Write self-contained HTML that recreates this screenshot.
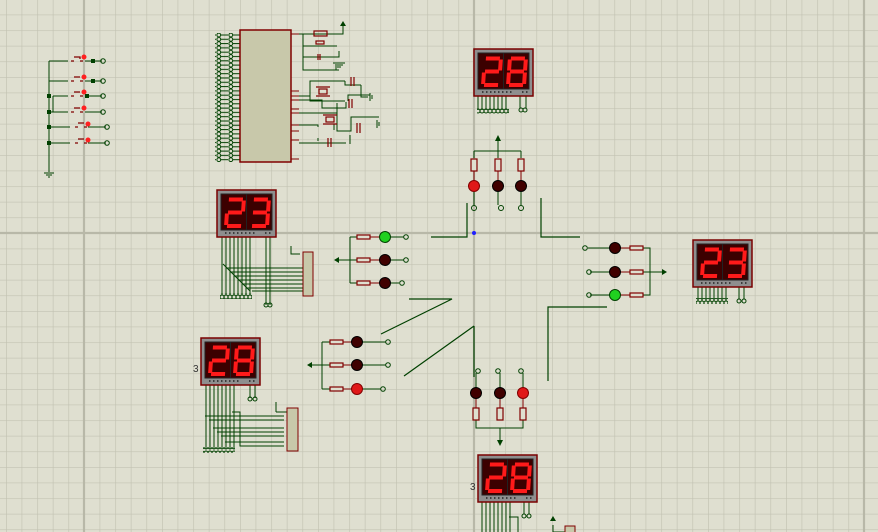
<!DOCTYPE html>
<html><head><meta charset="utf-8"><style>
html,body{margin:0;padding:0;background:#dfdfd0;}
svg{display:block;}
</style></head><body>
<svg width="878" height="532" viewBox="0 0 878 532" xmlns="http://www.w3.org/2000/svg">
<defs>
<pattern id="grid" x="6" y="14.6" width="15.6" height="15.6" patternUnits="userSpaceOnUse">
<path d="M0,0H15.6M0,0V15.6" stroke="#c2c2b2" stroke-width="1.3" fill="none"/>
</pattern>
<pattern id="mcupin" x="0" y="33" width="12" height="4.3" patternUnits="userSpaceOnUse">
<circle cx="2.8" cy="2" r="1.9" fill="none" stroke="#004000" stroke-width="1"/>
<path d="M4.7,2H12" stroke="#004000" stroke-width="1"/>
</pattern>
<pattern id="dpin" x="0" y="0" width="4" height="30" patternUnits="userSpaceOnUse">
<path d="M2,0V30" stroke="#004000" stroke-width="1"/>
</pattern>
<pattern id="dcirc" x="0" y="0" width="4" height="6" patternUnits="userSpaceOnUse">
<circle cx="2" cy="3" r="2" fill="none" stroke="#004000" stroke-width="1"/>
</pattern>
</defs>
<rect width="878" height="532" fill="#dfdfd0"/>
<rect width="878" height="532" fill="url(#grid)"/>
<path d="M84,0V532M474,0V532M864,0V532M0,233H878" stroke="#b8b8a8" stroke-width="2.2"/>

<!-- switches -->
<g stroke="#004000" stroke-width="1" fill="none">
<path d="M49,61V172M49,61H68M49,81H68M53,96H68M53,96V112M49,112H68M49,127H70M49,143H70"/>
<path d="M85,61H102M85,81H102M85,96H102M85,112H102M88,127H106M88,143H106"/>
<circle cx="103" cy="61" r="2.3"/><circle cx="103" cy="81" r="2.3"/><circle cx="103" cy="96" r="2.3"/><circle cx="103" cy="112" r="2.3"/><circle cx="107" cy="127" r="2.3"/><circle cx="107" cy="143" r="2.3"/>
<path d="M44,173H54M46,175H52M48,177H50"/>
</g>
<g fill="#004000"><rect x="47" y="94" width="4" height="4"/><rect x="47" y="110" width="4" height="4"/><rect x="47" y="125" width="4" height="4"/><rect x="47" y="141" width="4" height="4"/><rect x="91" y="59" width="4" height="4"/><rect x="91" y="79" width="4" height="4"/><rect x="85" y="94" width="4" height="4"/></g>
<g stroke="#800000" stroke-width="1.3" fill="none">
<path d="M71,61h3M80,61h3M74,57h6v2M71,81h3M80,81h3M74,77h6M71,96h3M80,96h3M74,92h6M71,112h3M80,112h3M74,108h6M75,127h3M84,127h3M78,123h6M75,143h3M84,143h3M78,139h6"/>
</g>
<g fill="#ff2020"><circle cx="84" cy="57" r="2.5"/><circle cx="84" cy="77" r="2.5"/><circle cx="84" cy="92" r="2.5"/><circle cx="84" cy="108" r="2.5"/><circle cx="88" cy="124" r="2.5"/><circle cx="88" cy="140" r="2.5"/></g>

<!-- MCU -->
<rect x="215" y="33" width="25" height="129" fill="url(#mcupin)"/>
<rect x="240" y="30" width="51" height="132" fill="#c8c8aa" stroke="#800000" stroke-width="1.5"/>
<g stroke="#800000" stroke-width="1"><path d="M291,34h8M291,91h8M291,96h8M291,100h8M291,109h8M291,113h8M291,125h8M291,131h8M291,140h8M291,159h8"/></g>
<g stroke="#004000" stroke-width="1" fill="none">
<path d="M299,34H343V26M303,34V57H339V51M303,46H337M303,57V70H339M336,70V66"/>
<path d="M299,96H310V81H345M310,96V101H345M345,81V85H361M348,101V95H370M361,85V97H368"/>
<path d="M299,100H322V108H346V102M299,113H337V103M337,108V131H351V117H379M337,131H350"/>
<path d="M299,125H318V127M299,143H330H346M318,141V138"/>
<path d="M334,124V130"/>
</g>
<g stroke="#800000" stroke-width="1.2" fill="none">
<rect x="314" y="31" width="13" height="5"/><rect x="316" y="41" width="8" height="3"/>
<path d="M320,54V60M318,54V60M351,77V86M354,77V86M349,99V108M352,99V108M357,123V133M360,123V133M328,138V147M331,138V147"/>
<rect x="319" y="89" width="8" height="5"/><path d="M316,87H330M316,96H330"/>
<rect x="326" y="117" width="8" height="5"/><path d="M323,115H337M323,124H337"/>
</g>
<g stroke="#004000" fill="none" stroke-width="1"><path d="M333,63H345M335,65H343M337,67H341M370,93V101M372,95V99M377,120V128M379,122V126M350,135V144"/></g>
<path d="M340,26l3,-5l3,5z" fill="#004000"/>

<!-- roads -->
<g stroke="#004000" stroke-width="1.2" fill="none">
<path d="M431,237H467V203M541,198V237H580M548,381V307H607M474,326V377M474,326L404,376M409,299H452L381,334"/>
</g>
<circle cx="474" cy="233" r="2" fill="#2020ff"/>

<!-- top lights -->
<g stroke="#004000" stroke-width="1" fill="none">
<path d="M498,137V151M474,151H521M474,151V158M498,151V158M521,151V158M474,192V205M498,192V205M521,192V205"/>
<circle cx="474" cy="208" r="2.5"/><circle cx="501" cy="208" r="2.5"/><circle cx="521" cy="208" r="2.5"/>
</g>
<path d="M495,141l3,-6l3,6z" fill="#004000"/>
<g stroke="#800000" stroke-width="1.2" fill="#dfdfd0"><rect x="471" y="159" width="6" height="12"/><rect x="495" y="159" width="6" height="12"/><rect x="518" y="159" width="6" height="12"/></g>
<g stroke="#800000" stroke-width="1"><path d="M474,171V181M498,171V181M521,171V181"/></g>
<circle cx="474" cy="186" r="5.5" fill="#e01818" stroke="#800000"/><circle cx="498" cy="186" r="5.5" fill="#400000" stroke="#000"/><circle cx="521" cy="186" r="5.5" fill="#400000" stroke="#000"/>

<!-- left lights -->
<g stroke="#004000" stroke-width="1" fill="none">
<path d="M336,260H350M350,237V283M350,237H357M350,260H357M350,283H357M391,237H404M391,260H404M391,283H399"/>
<circle cx="406" cy="237" r="2.3"/><circle cx="406" cy="260" r="2.3"/><circle cx="402" cy="283" r="2.3"/>
</g>
<path d="M334,260l5,-3v6z" fill="#004000"/>
<g stroke="#800000" stroke-width="1.2" fill="#dfdfd0"><rect x="357" y="235" width="13" height="4"/><rect x="357" y="258" width="13" height="4"/><rect x="357" y="281" width="13" height="4"/></g>
<path d="M370,237H380M370,260H380M370,283H380" stroke="#800000"/>
<circle cx="385" cy="237" r="5.5" fill="#20d020" stroke="#004000"/><circle cx="385" cy="260" r="5.5" fill="#400000" stroke="#000"/><circle cx="385" cy="283" r="5.5" fill="#400000" stroke="#000"/>

<!-- bottom-left lights -->
<g stroke="#004000" stroke-width="1" fill="none">
<path d="M310,365H322M322,342V389M322,342H330M322,365H330M322,389H330M362,342H386M362,365H386M362,389H381"/>
<circle cx="388" cy="342" r="2.3"/><circle cx="388" cy="365" r="2.3"/><circle cx="383" cy="389" r="2.3"/>
</g>
<path d="M307,365l5,-3v6z" fill="#004000"/>
<g stroke="#800000" stroke-width="1.2" fill="#dfdfd0"><rect x="330" y="340" width="13" height="4"/><rect x="330" y="363" width="13" height="4"/><rect x="330" y="387" width="13" height="4"/></g>
<path d="M343,342H352M343,365H352M343,389H352" stroke="#800000"/>
<circle cx="357" cy="342" r="5.5" fill="#400000" stroke="#000"/><circle cx="357" cy="365" r="5.5" fill="#400000" stroke="#000"/><circle cx="357" cy="389" r="5.5" fill="#e01818" stroke="#800000"/>

<!-- bottom lights -->
<g stroke="#004000" stroke-width="1" fill="none">
<path d="M476,373V388M500,373V388M523,373V388M476,420V428H523V420M500,428V440"/>
<circle cx="478" cy="371" r="2.3"/><circle cx="498" cy="371" r="2.3"/><circle cx="521" cy="371" r="2.3"/>
</g>
<path d="M497,440l3,6l3,-6z" fill="#004000"/>
<g stroke="#800000" stroke-width="1.2" fill="#dfdfd0"><rect x="473" y="408" width="6" height="12"/><rect x="497" y="408" width="6" height="12"/><rect x="520" y="408" width="6" height="12"/></g>
<path d="M476,398V408M500,398V408M523,398V408" stroke="#800000"/>
<circle cx="476" cy="393" r="5.5" fill="#400000" stroke="#000"/><circle cx="500" cy="393" r="5.5" fill="#400000" stroke="#000"/><circle cx="523" cy="393" r="5.5" fill="#e01818" stroke="#800000"/>

<!-- right lights -->
<g stroke="#004000" stroke-width="1" fill="none">
<path d="M588,248H610M590,272H610M590,295H610M643,248H650V295H643M643,272H662"/>
<circle cx="585" cy="248" r="2.3"/><circle cx="589" cy="272" r="2.3"/><circle cx="589" cy="295" r="2.3"/>
</g>
<path d="M667,272l-5,-3v6z" fill="#004000"/>
<g stroke="#800000" stroke-width="1.2" fill="#dfdfd0"><rect x="630" y="246" width="13" height="4"/><rect x="630" y="270" width="13" height="4"/><rect x="630" y="293" width="13" height="4"/></g>
<path d="M620,248H630M620,272H630M620,295H630" stroke="#800000"/>
<circle cx="615" cy="248" r="5.5" fill="#400000" stroke="#000"/><circle cx="615" cy="272" r="5.5" fill="#400000" stroke="#000"/><circle cx="615" cy="295" r="5.5" fill="#20d020" stroke="#004000"/>

<!-- display pin wires -->
<rect x="477" y="96" width="32" height="14" fill="url(#dpin)"/><rect x="477" y="108" width="32" height="6" fill="url(#dcirc)"/>
<path d="M520,96V108M526,96V108" stroke="#004000"/><circle cx="521" cy="110" r="2" fill="none" stroke="#004000"/><circle cx="525" cy="110" r="2" fill="none" stroke="#004000"/>
<rect x="696" y="287" width="32" height="14" fill="url(#dpin)"/><rect x="696" y="298" width="32" height="6" fill="url(#dcirc)"/>
<path d="M739,287V299M744,287V299" stroke="#004000"/><circle cx="739" cy="301" r="2" fill="none" stroke="#004000"/><circle cx="744" cy="301" r="2" fill="none" stroke="#004000"/>
<rect x="220" y="237" width="32" height="58" fill="url(#dpin)"/><rect x="220" y="293" width="32" height="6" fill="url(#dcirc)"/>
<path d="M266,237V305M270,237V305" stroke="#004000"/><circle cx="266" cy="305" r="2" fill="none" stroke="#004000"/><circle cx="270" cy="305" r="2" fill="none" stroke="#004000"/>
<g stroke="#004000" fill="none"><path d="M223,264L250,291M252,291H303M226,268H303M230,272H303M234,276H303M238,280H303M242,284H303M246,288H303M300,254H291V246"/></g>
<rect x="303" y="252" width="10" height="44" fill="#c8c8aa" stroke="#800000"/>
<rect x="203" y="385" width="32" height="64" fill="url(#dpin)"/><rect x="203" y="447" width="32" height="6" fill="url(#dcirc)"/>
<path d="M250,385V398M255,385V398" stroke="#004000"/><circle cx="250" cy="399" r="2" fill="none" stroke="#004000"/><circle cx="255" cy="399" r="2" fill="none" stroke="#004000"/>
<g stroke="#004000" fill="none"><path d="M205,416H284M209,420H284M213,428H284M217,432H284M221,436H284M225,442H284M232,412H240V446H284M276,412V402M276,412H287"/></g>
<rect x="287" y="408" width="11" height="43" fill="#c8c8aa" stroke="#800000"/>
<rect x="480" y="502" width="32" height="30" fill="url(#dpin)"/>
<path d="M524,502V514M529,502V514M509,517H518V532M553,525V532H565" stroke="#004000" fill="none"/><circle cx="524" cy="516" r="2" fill="none" stroke="#004000"/><circle cx="529" cy="516" r="2" fill="none" stroke="#004000"/>
<rect x="565" y="526" width="10" height="8" fill="#c8c8aa" stroke="#800000"/>
<path d="M550,521l3,-5l3,5z" fill="#004000"/>

<!-- displays -->
<g font-family="Liberation Sans, sans-serif" font-size="10" fill="#333"><text x="193" y="372">3</text><text x="470" y="490">3</text></g>

<g transform="translate(474,49)">
<rect x="0" y="0" width="59" height="47" fill="#8e8e8e" stroke="#7a0000" stroke-width="1.5"/>
<rect x="4" y="4" width="51" height="36" fill="#3c0000" stroke="#222"/><path d="M29.5,4V40" stroke="#222"/>
<path d="M8,43H40M48,43H54" stroke="#222" stroke-width="1.5" stroke-dasharray="1.5,2.5"/>
<g transform="translate(10,8) skewX(-4)" stroke="#ff1a1a" stroke-width="4"><path d="M2,1.5H16M17,2.5V13.5M2,14.5H16M1,15.5V27M2,28H16"/></g>
<g transform="translate(35,8) skewX(-4)" stroke="#ff1a1a" stroke-width="4"><path d="M2,1.5H16M17,2.5V13.5M17,15.5V27M2,28H16M1,15.5V27M1,2.5V13.5M2,14.5H16"/></g>
</g>
<g transform="translate(217,190)">
<rect x="0" y="0" width="59" height="47" fill="#8e8e8e" stroke="#7a0000" stroke-width="1.5"/>
<rect x="4" y="4" width="51" height="36" fill="#3c0000" stroke="#222"/><path d="M29.5,4V40" stroke="#222"/>
<path d="M8,43H40M48,43H54" stroke="#222" stroke-width="1.5" stroke-dasharray="1.5,2.5"/>
<g transform="translate(10,8) skewX(-4)" stroke="#ff1a1a" stroke-width="4"><path d="M2,1.5H16M17,2.5V13.5M2,14.5H16M1,15.5V27M2,28H16"/></g>
<g transform="translate(35,8) skewX(-4)" stroke="#ff1a1a" stroke-width="4"><path d="M2,1.5H16M17,2.5V13.5M17,15.5V27M2,28H16M2,14.5H16"/></g>
</g>
<g transform="translate(693,240)">
<rect x="0" y="0" width="59" height="47" fill="#8e8e8e" stroke="#7a0000" stroke-width="1.5"/>
<rect x="4" y="4" width="51" height="36" fill="#3c0000" stroke="#222"/><path d="M29.5,4V40" stroke="#222"/>
<path d="M8,43H40M48,43H54" stroke="#222" stroke-width="1.5" stroke-dasharray="1.5,2.5"/>
<g transform="translate(10,8) skewX(-4)" stroke="#ff1a1a" stroke-width="4"><path d="M2,1.5H16M17,2.5V13.5M2,14.5H16M1,15.5V27M2,28H16"/></g>
<g transform="translate(35,8) skewX(-4)" stroke="#ff1a1a" stroke-width="4"><path d="M2,1.5H16M17,2.5V13.5M17,15.5V27M2,28H16M2,14.5H16"/></g>
</g>
<g transform="translate(201,338)">
<rect x="0" y="0" width="59" height="47" fill="#8e8e8e" stroke="#7a0000" stroke-width="1.5"/>
<rect x="4" y="4" width="51" height="36" fill="#3c0000" stroke="#222"/><path d="M29.5,4V40" stroke="#222"/>
<path d="M8,43H40M48,43H54" stroke="#222" stroke-width="1.5" stroke-dasharray="1.5,2.5"/>
<g transform="translate(10,8) skewX(-4)" stroke="#ff1a1a" stroke-width="4"><path d="M2,1.5H16M17,2.5V13.5M2,14.5H16M1,15.5V27M2,28H16"/></g>
<g transform="translate(35,8) skewX(-4)" stroke="#ff1a1a" stroke-width="4"><path d="M2,1.5H16M17,2.5V13.5M17,15.5V27M2,28H16M1,15.5V27M1,2.5V13.5M2,14.5H16"/></g>
</g>
<g transform="translate(478,455)">
<rect x="0" y="0" width="59" height="47" fill="#8e8e8e" stroke="#7a0000" stroke-width="1.5"/>
<rect x="4" y="4" width="51" height="36" fill="#3c0000" stroke="#222"/><path d="M29.5,4V40" stroke="#222"/>
<path d="M8,43H40M48,43H54" stroke="#222" stroke-width="1.5" stroke-dasharray="1.5,2.5"/>
<g transform="translate(10,8) skewX(-4)" stroke="#ff1a1a" stroke-width="4"><path d="M2,1.5H16M17,2.5V13.5M2,14.5H16M1,15.5V27M2,28H16"/></g>
<g transform="translate(35,8) skewX(-4)" stroke="#ff1a1a" stroke-width="4"><path d="M2,1.5H16M17,2.5V13.5M17,15.5V27M2,28H16M1,15.5V27M1,2.5V13.5M2,14.5H16"/></g>
</g>
</svg>
</body></html>
